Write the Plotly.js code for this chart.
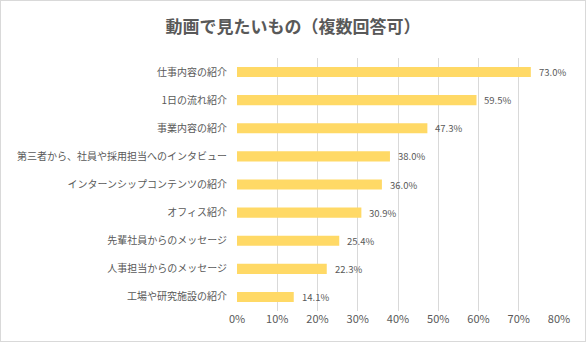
<!DOCTYPE html>
<html><head><meta charset="utf-8">
<script src="https://cdn.plot.ly/plotly-3.0.1.min.js"></script>
<style>
html,body{margin:0;padding:0;background:#fff;}
#c{width:586px;height:342px;box-sizing:border-box;border:1px solid #d9d9d9;}
</style></head>
<body><div id="c"></div>
<script>
const categories = ["仕事内容の紹介","1日の流れ紹介","事業内容の紹介","第三者から、社員や採用担当へのインタビュー","インターンシップコンテンツの紹介","オフィス紹介","先輩社員からのメッセージ","人事担当からのメッセージ","工場や研究施設の紹介"];
const values = [0.730,0.595,0.473,0.380,0.360,0.309,0.254,0.223,0.141];
const valueLabels = ["73.0%","59.5%","47.3%","38.0%","36.0%","30.9%","25.4%","22.3%","14.1%"];
const xTickVals = [0,0.1,0.2,0.3,0.4,0.5,0.6,0.7,0.8];
const xTickText = ["0%","10%","20%","30%","40%","50%","60%","70%","80%"];

const font = "'Noto Sans CJK JP', 'Noto Sans', sans-serif";
const trace = {
  type:'bar', orientation:'h',
  x: values, y: categories,
  marker:{color:'#FFD966'},
  width:0.36,
  hoverinfo:'none'
};
const annotations = categories.map((c,i)=>({
  x: values[i], y: c, xref:'x', yref:'y',
  text: valueLabels[i], showarrow:false, xanchor:'left', xshift:6,
  font:{family:font,size:9.5,color:'#595959'}
}));
const layout = {
  width:584, height:340,
  margin:{l:236,r:26,t:57,b:30},
  paper_bgcolor:'#fff', plot_bgcolor:'#fff',
  title:{text:'<b>動画で見たいもの（複数回答可）</b>', x:0.5, xanchor:'center', y:0.922, yanchor:'middle',
    font:{family:font,size:17,color:'#595959'}},
  xaxis:{range:[0,0.8], tickvals:xTickVals, ticktext:xTickText, showgrid:true, gridcolor:'#d9d9d9', gridwidth:1,
    zeroline:false, showline:false, ticks:'', tickfont:{family:font,size:11,color:'#595959'}, fixedrange:true},
  yaxis:{autorange:'reversed', showgrid:false, zeroline:false, showline:false, ticks:'', ticklabelstandoff:9,
    tickfont:{family:font,size:10,color:'#595959'}, fixedrange:true},
  annotations: annotations,
  showlegend:false,
  bargap:0.64
};
Plotly.newPlot('c',[trace],layout,{displayModeBar:false,staticPlot:true});
</script></body></html>
